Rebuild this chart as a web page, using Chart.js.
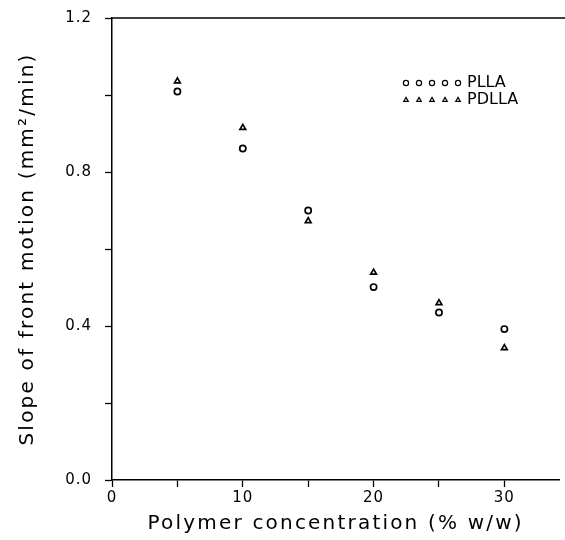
<!DOCTYPE html>
<html>
<head>
<meta charset="utf-8">
<script src="https://cdn.jsdelivr.net/npm/chart.js@4"></script>
<style>
  html, body { margin: 0; padding: 0; background: #ffffff; overflow: hidden; }
  canvas { display: block; }
</style>
</head>
<body>
<canvas id="FrontChart" width="565" height="540"></canvas>
<script>
// polymer concentration (% w/w)
var Concentration = [5, 10, 15, 20, 25, 30]
// slope of front motion (mm2/min)
var SlopePLLA = [1.009, 0.861, 0.700, 0.501, 0.435, 0.392]
var SlopePDLLA = [1.036, 0.915, 0.673, 0.539, 0.460, 0.343]
var XTicks = [0, 5, 10, 15, 20, 25, 30]
var SeriesNames = ['PLLA', 'PDLLA']

var FontName = '"DejaVu Sans", sans-serif'
Chart.defaults.color = '#000000'
Chart.defaults.font.family = FontName

function toPoints(xs, ys) {
    var pts = []
    for (var i = 0; i < xs.length; i++) pts.push({ x: xs[i], y: ys[i] })
    return pts
}

// wide lettering like the original; titles get more spacing than tick labels
function spacedTitle(scale) {
    if (scale._spacedTitle) return
    scale._spacedTitle = true
    var orig = scale.drawTitle
    scale.drawTitle = function () {
        var c = this.ctx
        var old = c.letterSpacing
        c.letterSpacing = '2.2px'
        orig.apply(this, arguments)
        c.letterSpacing = old
    }
}

var SpacingPlugin = {
    id: 'SpacingPlugin',
    beforeLayout: function (chart) { chart.ctx.letterSpacing = '1px' },
    afterLayout: function (chart) {
        spacedTitle(chart.scales.x)
        spacedTitle(chart.scales.y)
    },
    beforeDraw: function (chart) { chart.ctx.letterSpacing = '1px' }
}

// top frame line + legend drawn inside the plot
var FramePlugin = {
    id: 'FramePlugin',
    afterDraw: function (chart) {
        var ctx = chart.ctx
        var area = chart.chartArea
        ctx.save()
        ctx.strokeStyle = '#000'
        ctx.lineWidth = 1.5
        ctx.beginPath()
        ctx.moveTo(area.left, area.top)
        ctx.lineTo(chart.width, area.top)
        ctx.stroke()

        // legend
        var styles = ['circle', 'triangle']
        var x0 = 406, gap = 13, y0 = 83, rowH = 17
        for (var s = 0; s < SeriesNames.length; s++) {
            var y = y0 + s * rowH
            ctx.fillStyle = 'rgba(0,0,0,0)'
            ctx.strokeStyle = '#000'
            ctx.lineWidth = 1.2
            for (var k = 0; k < 5; k++) {
                Chart.helpers.drawPoint(ctx, { pointStyle: styles[s], radius: 2.6, borderWidth: 1.2 }, x0 + k * gap, y)
            }
            ctx.fillStyle = '#000'
            ctx.font = '16px ' + FontName
            ctx.letterSpacing = '0px'
            ctx.textBaseline = 'middle'
            ctx.textAlign = 'left'
            ctx.fillText(SeriesNames[s], 467, y)
        }
        ctx.restore()
    }
}

var ctxFront = document.getElementById('FrontChart').getContext('2d')
var FrontChart = new Chart(ctxFront, {
    type: 'scatter',
    data: {
        datasets: [{
            label: SeriesNames[0],
            data: toPoints(Concentration, SlopePLLA),
            pointStyle: 'circle',
            pointRadius: 3.1,
            pointBorderWidth: 1.7,
            borderColor: '#000',
            backgroundColor: 'rgba(0,0,0,0)'
        }, {
            label: SeriesNames[1],
            data: toPoints(Concentration, SlopePDLLA),
            pointStyle: 'triangle',
            pointRadius: 3.3,
            pointBorderWidth: 1.7,
            borderColor: '#000',
            backgroundColor: 'rgba(0,0,0,0)'
        }]
    },
    plugins: [SpacingPlugin, FramePlugin],
    options: {
        responsive: false,
        animation: false,
        layout: { padding: { top: 18, right: 0, left: 0, bottom: 0 } },
        plugins: {
            legend: { display: false },
            tooltip: { enabled: false }
        },
        scales: {
            x: {
                type: 'linear',
                min: 0,
                max: 34.2,
                afterBuildTicks: function (scale) {
                    scale.ticks = XTicks.map(function (v) { return { value: v } })
                },
                ticks: {
                    autoSkip: false,
                    maxRotation: 0,
                    padding: 2,
                    font: { size: 15 },
                    callback: function (v) { return v % 10 === 0 ? String(v) : '' }
                },
                grid: { drawOnChartArea: false, tickLength: 7, tickColor: '#000', tickWidth: 1.3 },
                border: { color: '#000', width: 1.5 },
                title: {
                    display: true,
                    text: 'Polymer concentration (% w/w)',
                    font: { size: 20 },
                    padding: { top: 3, bottom: 4 }
                }
            },
            y: {
                min: 0,
                max: 1.2,
                ticks: {
                    stepSize: 0.2,
                    padding: 13,
                    font: { size: 15 },
                    callback: function (v) {
                        var r = Math.round(v * 10)
                        return r % 4 === 0 ? (r / 10).toFixed(1) : ''
                    }
                },
                grid: { drawOnChartArea: false, tickLength: 7, tickColor: '#000', tickWidth: 1.3 },
                border: { color: '#000', width: 1.5 },
                title: {
                    display: true,
                    text: 'Slope of front motion (mm²/min)',
                    font: { size: 20 },
                    padding: { top: 16, bottom: 0 }
                },
                afterFit: function (scale) {
                    scale.width = 112
                    scale.paddingTop = 0
                    scale.paddingBottom = 0
                }
            }
        }
    }
})
</script>
</body>
</html>
